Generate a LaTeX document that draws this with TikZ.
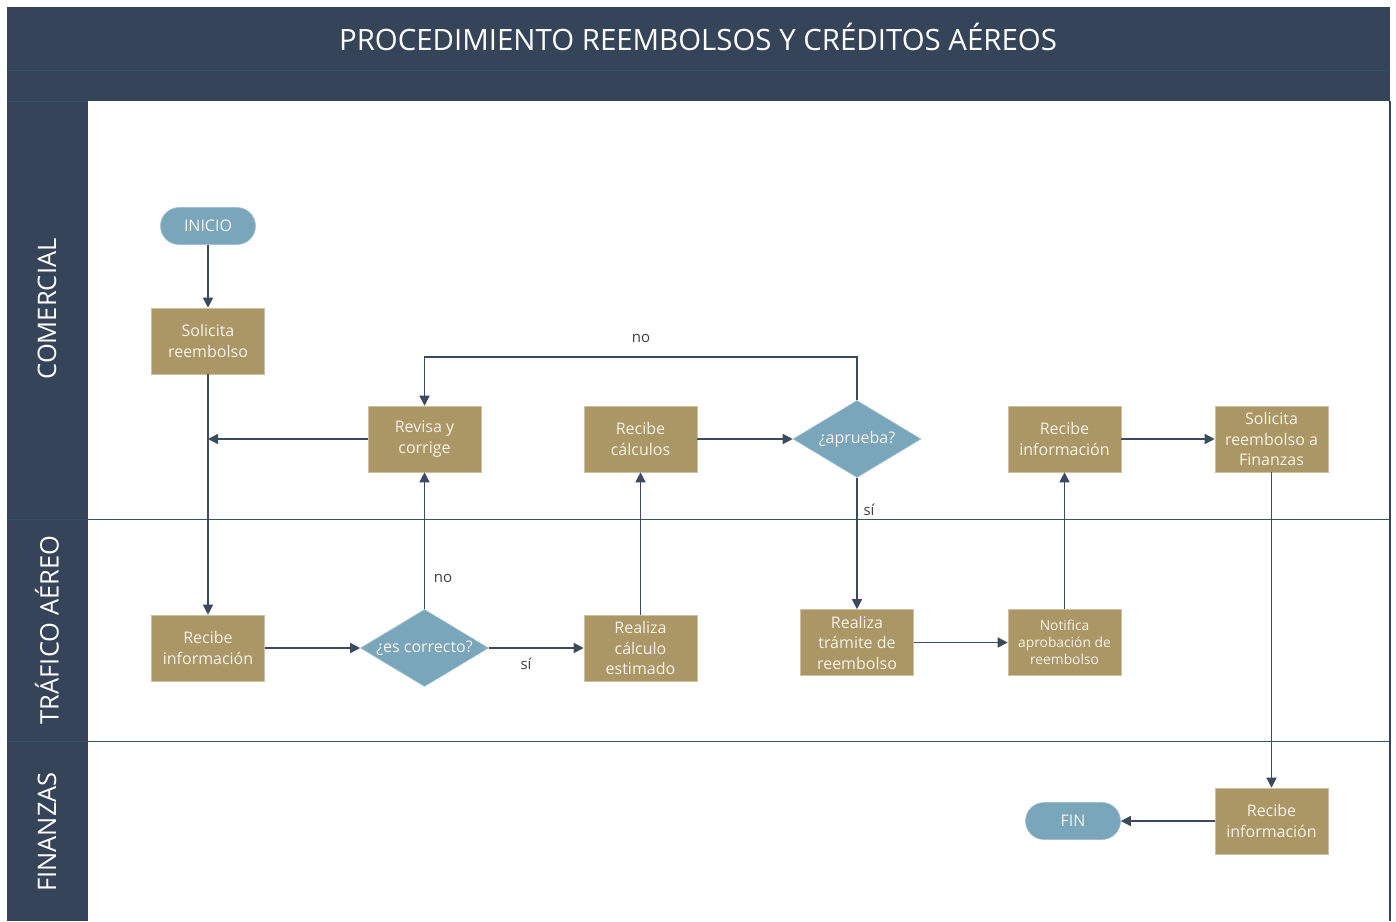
\documentclass[tikz,border=0pt]{standalone}
\usepackage{fontspec}
\setmainfont{Open Sans}
\usetikzlibrary{arrows.meta,shapes.geometric}
\definecolor{navy}{HTML}{364459}
\definecolor{tan}{HTML}{AB9665}
\definecolor{skyb}{HTML}{7AA6BB}
\definecolor{lnc}{HTML}{3B4A5E}
\definecolor{sepc}{HTML}{2F5468}
\definecolor{boxtxt}{HTML}{F7F3EA}
\definecolor{lbltxt}{HTML}{404040}
\begin{document}
\begin{tikzpicture}[x=1pt,y=-1pt,
  proc/.style={fill=tan, draw=tan!60!white, line width=0.6pt, minimum width=113pt, minimum height=66pt, inner sep=1pt, align=center, text=boxtxt, font=\fontsize{16}{20.5}\selectfont},
  small/.style={font=\fontsize{13.8}{17}\selectfont},
  pill/.style={fill=skyb, draw=skyb!70!white, line width=0.6pt, rounded corners=18.5pt, minimum width=95pt, minimum height=37pt, text=boxtxt, font=\fontsize{16}{20}\selectfont},
  dia/.style={diamond, fill=skyb, draw=skyb!70!white, line width=0.6pt, minimum width=128pt, minimum height=77pt, inner sep=0pt},
  diatxt/.style={text=boxtxt, font=\fontsize{16}{20}\selectfont},
  arr/.style={draw=lnc, line width=1.5pt, -{Triangle[length=10pt,width=10pt]}},
  lbl/.style={text=lbltxt, font=\fontsize{15}{18}\selectfont},
  lane/.style={text=white, rotate=90, font=\fontsize{25.5}{30}\selectfont}
]
\useasboundingbox (0,0) rectangle (1396,921);
\fill[white] (0,0) rectangle (1396,921);
\fill[navy] (7,7) rectangle (1390,921);
\fill[white] (88,101) rectangle (1390,921);
\draw[sepc, line width=0.8pt] (7,70) -- (1390,70);
\draw[sepc, line width=0.8pt] (7,101) -- (88,101);
\draw[sepc, line width=1pt] (7,519) -- (1390,519);
\draw[sepc, line width=1pt] (7,741) -- (1390,741);
\draw[navy, line width=1.5pt] (1390,101) -- (1390,921);

\node[text=white, font=\fontsize{29.4}{34}\selectfont] (title) at (698,37) {PROCEDIMIENTO REEMBOLSOS Y CRÉDITOS AÉREOS};
\node[lane] (l1) at (47,309) {COMERCIAL};
\node[lane] (l2) at (47,630) {TRÁFICO AÉREO};
\node[lane] (l3) at (47,832) {FINANZAS};

\node[pill] (inicio) at (208,226) {INICIO};
\node[proc] (sol1) at (208,341) {Solicita\\reembolso};
\node[proc] (rev) at (424.5,439) {Revisa y\\corrige};
\node[proc] (rc) at (640.5,439) {Recibe\\cálculos};
\node[dia, label={[diatxt]center:¿aprueba?}] (da) at (857,439) {};
\node[proc] (ri2) at (1064.5,439) {Recibe\\información};
\node[proc] (sf) at (1271.5,439) {Solicita\\reembolso a\\Finanzas};

\node[proc] (rec1) at (208,648) {Recibe\\información};
\node[dia, label={[diatxt]center:¿es correcto?}] (dc) at (424.5,648) {};
\node[proc] (calc) at (640.5,648) {Realiza\\cálculo\\estimado};
\node[proc] (tram) at (857,642.5) {Realiza\\trámite de\\reembolso};
\node[proc, small] (noti) at (1064.5,642.5) {Notifica\\aprobación de\\reembolso};

\node[proc] (ri3) at (1271.5,821) {Recibe\\información};
\node[pill] (fin) at (1073,821) {FIN};

\coordinate (j1) at (208,439);

\draw[arr] (inicio) -- (sol1);
\draw[arr] (sol1) -- (rec1);
\draw[arr] (rev.west) -- (j1);
\draw[arr] (rec1) -- (dc);
\draw[arr] (dc) -- (rev);
\draw[arr] (dc) -- (calc);
\draw[arr] (calc) -- (rc);
\draw[arr] (rc) -- (da);
\draw[arr] (da.north) -- ++(0,-43) -| (rev.north);
\draw[arr] (da) -- (tram);
\draw[arr] (tram) -- (noti);
\draw[arr] (noti) -- (ri2);
\draw[arr] (ri2) -- (sf);
\draw[arr] (sf) -- (ri3);
\draw[arr] (ri3) -- (fin);

\node[lbl] (no1) at (443,578) {no};
\node[lbl] (si1) at (526,664) {sí};
\node[lbl] (no2) at (641,338) {no};
\node[lbl] (si2) at (869,510) {sí};
\end{tikzpicture}
\end{document}
